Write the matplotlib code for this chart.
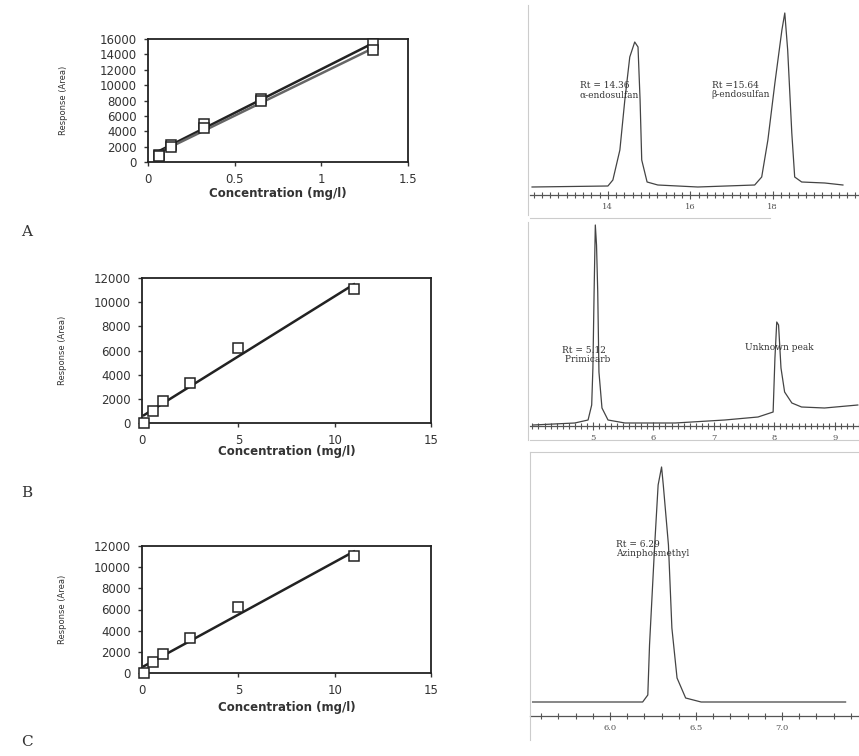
import numpy as np
import matplotlib
matplotlib.use("Agg")
import matplotlib.pyplot as plt
from matplotlib.ticker import MultipleLocator, FixedLocator, FuncFormatter
from matplotlib.lines import Line2D

# Calibration data
# A : endosulfan (two isomers)
conc_a = [0.065, 0.13, 0.325, 0.65, 1.3]
area_a1 = [900, 2200, 5000, 8200, 15300]
area_a2 = [800, 2000, 4400, 8000, 14600]
# B : pirimicarb
conc_b = [0.1, 0.55, 1.1, 2.5, 5.0, 11.0]
area_b = [0, 1000, 1800, 3300, 6200, 11100]
# C : azinphos-methyl
conc_c = [0.1, 0.55, 1.1, 2.5, 5.0, 11.0]
area_c = [0, 1000, 1800, 3300, 6200, 11100]

# Chromatogram traces (time in min, signal in arbitrary units)
time_a = [12.16, 14.00, 14.12, 14.29, 14.41, 14.53, 14.65, 14.73, 14.78, 14.82, 14.95, 15.21,
          16.18, 17.56, 17.73, 17.88, 18.05, 18.22, 18.29, 18.36, 18.46, 18.53, 18.70, 19.26, 19.70]
sig_a = [0, 1, 7, 37, 87, 130, 145, 140, 87, 27, 5, 2,
         0, 2, 10, 47, 104, 157, 174, 137, 54, 10, 5, 4, 2]
time_b = [4.01, 4.70, 4.92, 4.98, 5.00, 5.02, 5.04, 5.06, 5.08, 5.10, 5.15, 5.25, 5.53, 6.36,
          7.18, 7.73, 7.98, 8.01, 8.04, 8.07, 8.11, 8.17, 8.29, 8.45, 8.83, 9.38]
sig_b = [0, 2, 5, 20, 57, 133, 200, 180, 133, 53, 17, 5, 2, 2,
         5, 8, 13, 67, 103, 100, 57, 33, 22, 18, 17, 20]
time_c = [5.55, 6.19, 6.22, 6.23, 6.26, 6.28, 6.30, 6.31, 6.34, 6.36, 6.39, 6.44, 6.53, 7.37]
sig_c = [0, 0, 7, 57, 157, 217, 235, 217, 157, 74, 24, 4, 0, 0]

W, H = 859, 756
fig = plt.figure(figsize=(W / 100, H / 100), dpi=100)

def box(l, t, r, b):
  return [l / W, 1 - b / H, (r - l) / W, (b - t) / H]

# calibration panel
def calib(rect, xs_list, ys_list, line_cols, xmax, xstep, ymax, ystep, xlab_y, ylab_x):
  ax = fig.add_axes(rect)
  for xs, ys, col in zip(xs_list, ys_list, line_cols):
    k, c = np.polyfit(xs, ys, 1)
    xl = np.array([min(xs), max(xs)])
    ax.plot(xl, k * xl + c, color=col, lw=1.8, zorder=2)
  for xs, ys in zip(xs_list, ys_list):
    ax.plot(xs, ys, "s", ms=6.5, mfc="white", mec="#222", mew=1.1, zorder=3, clip_on=False)
  ax.set_xlim(0, xmax)
  ax.set_ylim(0, ymax)
  ax.xaxis.set_major_locator(MultipleLocator(xstep))
  ax.yaxis.set_major_locator(MultipleLocator(ystep))
  ax.xaxis.set_major_formatter(FuncFormatter(lambda v, p: f"{v:g}"))
  ax.tick_params(direction="out", length=3, width=1, labelsize=8.5, colors="#333", pad=5)
  for s in ax.spines.values():
    s.set_linewidth(1.3)
    s.set_color("#222")
  ax.set_xlabel("Concentration (mg/l)", fontsize=8.5, fontweight="bold", color="#333")
  ax.set_ylabel("Response (Area)", fontsize=6, color="#333")
  ax.xaxis.set_label_coords(0.5, xlab_y)
  ax.xaxis.label.set_va("center")
  ax.yaxis.set_label_coords(ylab_x, 0.5)
  ax.yaxis.label.set_va("center")
  return ax

calib(box(148, 39, 408, 162), [conc_a, conc_a], [area_a1, area_a2], ["#222", "#666"],
      1.5, 0.5, 16000, 2000, -(193 - 162) / 123, (63 - 148) / 260)
calib(box(142, 278, 431, 423), [conc_b], [area_b], ["#222"],
      15, 5, 12000, 2000, -(452 - 423) / 145, (63 - 142) / 289)
calib(box(142, 546, 431, 673), [conc_c], [area_c], ["#222"],
      15, 5, 12000, 2000, -(708 - 673) / 127, (63 - 142) / 289)

# chromatogram panel
def chrom(rect, t, s, xlim, ylim, majors, minor, labels):
  ax = fig.add_axes(rect)
  ax.plot(t, s, color="#444", lw=0.9)
  ax.set_xlim(*xlim)
  ax.set_ylim(*ylim)
  for side in ["top", "right", "left"]:
    ax.spines[side].set_visible(False)
  ax.spines["bottom"].set_color("#555")
  ax.spines["bottom"].set_linewidth(0.9)
  ax.set_yticks([])
  ax.xaxis.set_major_locator(FixedLocator(majors))
  ax.xaxis.set_minor_locator(MultipleLocator(minor))
  ax.tick_params(axis="x", which="both", direction="inout", colors="#555", width=0.8,
                 labelsize=6, pad=3)
  ax.tick_params(axis="x", which="major", length=6)
  ax.tick_params(axis="x", which="minor", length=5)
  for lab in ax.get_xticklabels():
    lab.set_family("DejaVu Serif")
  ax.patch.set_alpha(0)
  for x, y, txt in labels:
    ax.text(x, y, txt, fontsize=6.5, family="DejaVu Serif", color="#333",
            ha="left", va="center", linespacing=1.1)
  return ax

ca = chrom(box(530, 0, 859, 195), time_a, sig_a, (12.11, 20.09), (-8, 187),
           [14, 16, 18], 0.2,
           [(13.32, 97, "Rt = 14.36\nα-endosulfan"), (16.52, 97, "Rt =15.64\nβ-endosulfan")])
ca.set_xticklabels(["14", "16", "18"])

cb = chrom(box(530, 220, 859, 426), time_b, sig_b, (3.96, 9.40), (-1, 205),
           [5, 6, 7, 8, 9], 0.1,
           [(4.49, 70, "Rt = 5.12\n Primicarb"), (7.51, 77, "Unknown peak")])

cc = chrom(box(530, 452, 859, 716), time_c, sig_c, (5.535, 7.448), (-14, 250),
           [6.0, 6.5, 7.0], 0.1,
           [(6.035, 153, "Rt = 6.29\nAzinphosmethyl")])
cc.set_xticklabels(["6.0", "6.5", "7.0"])

# faint scan frame lines around the chromatograms
for (x0, y0, x1, y1) in [(528, 5, 528, 215), (528, 222, 528, 440), (530, 452, 530, 740),
                         (530, 218, 770, 218), (530, 452, 859, 452), (530, 440, 859, 440)]:
  fig.add_artist(Line2D([x0 / W, x1 / W], [1 - y0 / H, 1 - y1 / H], color="#ccc", lw=0.8))

# panel letters
for lab, y in [("A", 232), ("B", 493), ("C", 742)]:
  fig.text(27 / W, 1 - y / H, lab, fontsize=11, family="DejaVu Serif", color="#333",
           ha="center", va="center")

fig.savefig("out.png", dpi=100)
